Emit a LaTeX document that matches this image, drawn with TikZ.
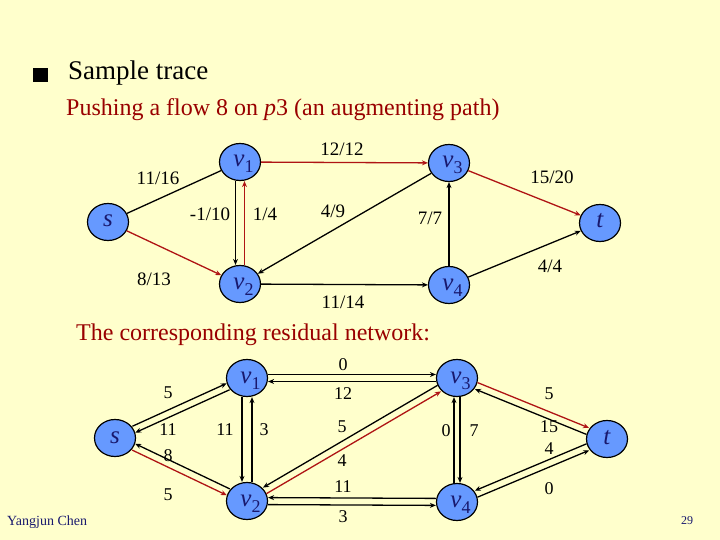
\documentclass[tikz,border=0pt]{standalone}
\usepackage{fontspec}
\setmainfont{Liberation Serif}
\usetikzlibrary{calc,arrows.meta,shapes.geometric}
\definecolor{bg}{RGB}{255,255,204}
\definecolor{nodefill}{RGB}{102,153,255}
\definecolor{flowred}{RGB}{175,20,20}
\definecolor{txtred}{RGB}{153,0,0}
\definecolor{navy}{RGB}{25,25,110}
\newcommand\vlab[1]{\makebox[0pt]{\hspace{7pt}\raisebox{-5pt}[0pt][0pt]{\textit{v}\raisebox{-6pt}{\fontsize{18}{18}\selectfont #1}}}}
\newcommand\slab[1]{\raisebox{-5pt}[0pt][0pt]{\textit{#1}}}
\newcommand\pedge[4]{%
  \path ($(#3)-(#2)$) coordinate (pdir);
  \draw[#1, transform canvas={shift={($(0,0)!#4!90:(pdir)$)}}] (#2) -- (#3);}
\tikzset{
  vert/.style={ellipse, draw=black, line width=1.2pt, fill=nodefill, text=navy,
    minimum width=41pt, minimum height=37pt, inner sep=0pt,
    font=\fontsize{25}{25}\selectfont},
  arc/.style={line width=1.3pt, -{Stealth[length=6pt,width=5pt]}},
  plainedge/.style={line width=1.3pt},
  redarc/.style={arc, draw=flowred},
  lab/.style={font=\fontsize{19}{19}\selectfont, inner sep=0pt},
  rlab/.style={font=\fontsize{18}{18}\selectfont, inner sep=0pt},
  heading/.style={anchor=base west, inner sep=0pt},
}
\begin{document}
\begin{tikzpicture}[x=1pt,y=-1pt]
\fill[bg] (0,0) rectangle (720,540);
\useasboundingbox (0,0) rectangle (720,540);
% header
\fill[black] (33,68) rectangle (48,82);
\node[heading, font=\fontsize{27}{27}\selectfont] (title) at (68,80) {Sample trace};
\node[heading, text=txtred, font=\fontsize{24}{24}\selectfont] (sub) at (66,116) {Pushing a flow 8 on \textit{p}3 (an augmenting path)};
\node[heading, text=txtred, font=\fontsize{24}{24}\selectfont] (res) at (76,340) {The corresponding residual network:};
\node[heading, text=navy, font=\fontsize{14}{14}\selectfont] (auth) at (7,525) {Yangjun Chen};
\node[text=navy, font=\fontsize{12}{12}\selectfont, inner sep=0pt] (pg) at (687,521) {29};

% ---------- top graph ----------
\node[vert] (s)  at (108,222) {\slab{s}};
\node[vert] (v1) at (240,162) {\vlab{1}};
\node[vert] (v2) at (240,284) {\vlab{2}};
\node[vert] (v3) at (449,163) {\vlab{3}};
\node[vert] (v4) at (449,285) {\vlab{4}};
\node[vert] (t)  at (600,223) {\slab{t}};

\draw[plainedge] (s) -- (v1);
\draw[redarc] (s) -- (v2);
\pedge{arc}{v1}{v2}{-4.5pt}
\pedge{redarc}{v2}{v1}{-4.5pt}
\draw[redarc] (v1) -- (v3);
\draw[arc] (v3) -- (v2);
\draw[redarc] (v3) -- (t);
\draw[arc] (v4) -- (v3);
\draw[arc] (v2) -- (v4);
\draw[arc] (v4) -- (t);

\node[lab] (a1) at (158,178) {11/16};
\node[lab] (a2) at (210,214) {-1/10};
\node[lab] (a3) at (265,214) {1/4};
\node[lab] (a4) at (333,211) {4/9};
\node[lab] (a5) at (342,149) {12/12};
\node[lab] (a6) at (430,218) {7/7};
\node[lab] (a7) at (552,177) {15/20};
\node[lab] (a8) at (550,266) {4/4};
\node[lab] (a9) at (154,279) {8/13};
\node[lab] (a10) at (343,302) {11/14};

% ---------- residual graph ----------
\node[vert] (rs)  at (115,438) {\slab{s}};
\node[vert] (r1) at (247,378) {\vlab{1}};
\node[vert] (r2) at (247,501) {\vlab{2}};
\node[vert] (r3) at (457,378) {\vlab{3}};
\node[vert] (r4) at (457,502) {\vlab{4}};
\node[vert] (rt)  at (607,439) {\slab{t}};

\pedge{arc}{rs}{r1}{3.5pt}
\pedge{arc}{r1}{rs}{3.5pt}
\pedge{arc}{r2}{rs}{-3.5pt}
\pedge{redarc}{rs}{r2}{-3.5pt}
\pedge{arc}{r1}{r2}{-5pt}
\pedge{arc}{r2}{r1}{-5pt}
\pedge{arc}{r1}{r3}{3.5pt}
\pedge{arc}{r3}{r1}{3.5pt}
\pedge{arc}{r3}{r2}{-3.5pt}
\pedge{redarc}{r2}{r3}{-3.5pt}
\pedge{arc}{r4}{r2}{-3.5pt}
\pedge{arc}{r2}{r4}{-3.5pt}
\pedge{arc}{r4}{r3}{3pt}
\pedge{arc}{r3}{r4}{3pt}
\pedge{redarc}{r3}{rt}{3.5pt}
\pedge{arc}{rt}{r3}{3.5pt}
\pedge{arc}{rt}{r4}{-3.5pt}
\pedge{arc}{r4}{rt}{-3.5pt}

\node[rlab] (b1) at (168,393) {5};
\node[rlab] (b2) at (168,430) {11};
\node[rlab] (b3) at (168,456) {8};
\node[rlab] (b4) at (168,495) {5};
\node[rlab] (b5) at (225,430) {11};
\node[rlab] (b6) at (264,430) {3};
\node[rlab] (b7) at (343,365) {0};
\node[rlab] (b8) at (343,394) {12};
\node[rlab] (b9) at (342,427) {5};
\node[rlab] (b10) at (342,461) {4};
\node[rlab] (b11) at (343,487) {11};
\node[rlab] (b12) at (343,517) {3};
\node[rlab] (b13) at (446,431) {0};
\node[rlab] (b14) at (474,431) {7};
\node[rlab] (b15) at (549,394) {5};
\node[rlab] (b16) at (549,427) {15};
\node[rlab] (b17) at (549,449) {4};
\node[rlab] (b18) at (549,489) {0};
\end{tikzpicture}
\end{document}
